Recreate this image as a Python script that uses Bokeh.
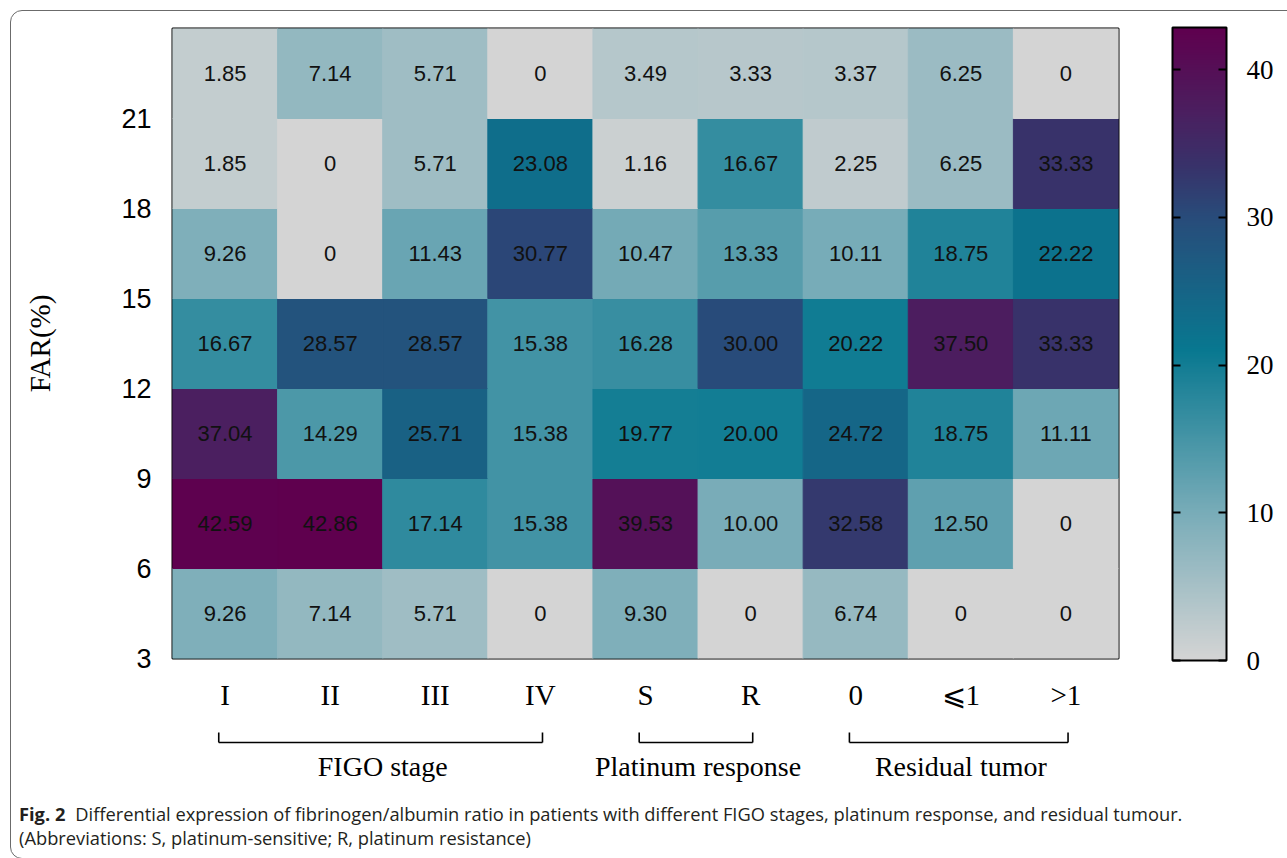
import numpy as np
from bokeh.plotting import figure
from bokeh.layouts import column
from bokeh.models import (ColumnDataSource, LinearColorMapper, ColorBar, FixedTicker,
                          InlineStyleSheet, Div)
from bokeh.transform import transform
from bokeh.core.properties import value
from bokeh.embed import file_html
from bokeh.resources import INLINE

# ---------------- data ----------------
categories = ["I", "II", "III", "IV", "S", "R", "0", "\u2a7d1", ">1"]
far_edges = [3, 6, 9, 12, 15, 18, 21, 24]
y_ticks = [3, 6, 9, 12, 15, 18, 21]

# percentage of patients in each FAR bin (one list per bin, bottom to top)
bin_3_6 = [9.26, 7.14, 5.71, 0, 9.30, 0, 6.74, 0, 0]
bin_6_9 = [42.59, 42.86, 17.14, 15.38, 39.53, 10.00, 32.58, 12.50, 0]
bin_9_12 = [37.04, 14.29, 25.71, 15.38, 19.77, 20.00, 24.72, 18.75, 11.11]
bin_12_15 = [16.67, 28.57, 28.57, 15.38, 16.28, 30.00, 20.22, 37.50, 33.33]
bin_15_18 = [9.26, 0, 11.43, 30.77, 10.47, 13.33, 10.11, 18.75, 22.22]
bin_18_21 = [1.85, 0, 5.71, 23.08, 1.16, 16.67, 2.25, 6.25, 33.33]
bin_21_24 = [1.85, 7.14, 5.71, 0, 3.49, 3.33, 3.37, 6.25, 0]

groups = ["FIGO stage", "Platinum response", "Residual tumor"]
group_first = [0, 4, 6]
group_last = [3, 5, 8]
cbar_ticks = [0, 10, 20, 30, 40]

caption_bold = "Fig. 2"
caption_1 = ("Differential expression of fibrinogen/albumin ratio in patients with different "
             "FIGO stages, platinum response, and residual tumour.")
caption_2 = "(Abbreviations: S, platinum-sensitive; R, platinum resistance)"

# ---------------- table ----------------
rows = [bin_3_6, bin_6_9, bin_9_12, bin_12_15, bin_15_18, bin_18_21, bin_21_24]
xs, ys, hs, vals, labels = [], [], [], [], []
for i, row in enumerate(rows):
    for j, v in enumerate(row):
        xs.append(j)
        ys.append((far_edges[i] + far_edges[i + 1]) / 2)
        hs.append(far_edges[i + 1] - far_edges[i])
        vals.append(v)
        labels.append("0" if v == 0 else f"{v:.2f}")
src = ColumnDataSource(dict(x=xs, y=ys, h=hs, v=vals, t=labels))

vmax = max(vals)
anchors = [(0, (212, 212, 212)), (10, (120, 172, 184)), (21, (8, 120, 144)),
           (30, (40, 76, 122)), (33.5, (56, 50, 106)), (37, (74, 32, 96)),
           (vmax, (95, 0, 78))]
ap = [a[0] for a in anchors]
palette = []
for k in range(256):
    t = vmax * k / 255
    c = [int(round(np.interp(t, ap, [a[1][ch] for a in anchors]))) for ch in range(3)]
    palette.append("#%02x%02x%02x" % tuple(c))
mapper = LinearColorMapper(palette=palette, low=0, high=vmax)

W = 1279
SERIF = "Liberation Serif"
SANS = "Liberation Sans"

# ---------------- main heat map ----------------
p = figure(width=W, height=722, x_range=(-0.5, 8.5), y_range=(3, 24),
           output_backend="svg", toolbar_location=None,
           min_border_left=172, min_border_right=W - 1118, min_border_top=28,
           min_border_bottom=64)
p.background_fill_color = "white"
p.border_fill_color = "white"
p.grid.visible = False
p.outline_line_color = "black"
p.outline_line_width = 2

p.rect(x="x", y="y", width=1, height="h", source=src,
       fill_color=transform("v", mapper), line_color=transform("v", mapper), line_width=1)
p.text(x="x", y="y", text="t", source=src, text_font=value(SANS),
       text_font_size="22px", text_align="center", text_baseline="middle",
       text_color="#111111")

p.xaxis.ticker = FixedTicker(ticks=list(range(len(categories))))
p.xaxis.major_label_overrides = {j: c for j, c in enumerate(categories)}
p.xaxis.major_label_text_font = SERIF
p.xaxis.major_label_text_font_size = "29px"
p.xaxis.major_label_text_color = "black"
p.xaxis.major_label_standoff = 20
p.yaxis.ticker = FixedTicker(ticks=y_ticks)
p.yaxis.major_label_text_font = SANS
p.yaxis.major_label_text_font_size = "27px"
p.yaxis.major_label_text_color = "black"
p.yaxis.major_label_standoff = 21
p.yaxis.axis_label = "FAR(%)"
p.yaxis.axis_label_text_font = SERIF
p.yaxis.axis_label_text_font_size = "29px"
p.yaxis.axis_label_text_font_style = "normal"
p.yaxis.axis_label_text_color = "black"
p.yaxis.axis_label_standoff = 62
for ax in (p.xaxis, p.yaxis):
    ax.axis_line_color = None
    ax.major_tick_line_color = None
    ax.minor_tick_line_color = None
    ax.major_tick_out = 0
    ax.major_tick_in = 0

# ticks run across the bar with a dash pattern, leaving short marks on both edges
cb = ColorBar(color_mapper=mapper, ticker=FixedTicker(ticks=cbar_ticks),
              width=54, height=633, location=(1000, -2), padding=0, margin=0,
              background_fill_color=None, border_line_color=None,
              bar_line_color="black", bar_line_width=2,
              major_tick_line_color="black", major_tick_line_width=2, major_tick_in=54,
              major_tick_line_dash="8 38",
              minor_tick_line_color=None,
              major_label_text_font=SERIF, major_label_text_font_size="27px",
              major_label_text_color="black", label_standoff=20)
p.add_layout(cb, "center")

# ---------------- group brackets ----------------
p2 = figure(width=W, height=70, x_range=p.x_range, y_range=(0, 70),
            output_backend="svg", toolbar_location=None,
            x_axis_location=None, y_axis_location=None,
            min_border_left=172, min_border_right=W - 1118, min_border_top=0,
            min_border_bottom=0)
p2.grid.visible = False
p2.outline_line_color = None
p2.background_fill_color = "white"
p2.border_fill_color = "white"
bx0, by0, bx1, by1 = [], [], [], []
for a, b in zip(group_first, group_last):
    for (x0, y0, x1, y1) in [(a - 0.06, 60, a - 0.06, 50), (a - 0.06, 50, b + 0.02, 50),
                             (b + 0.02, 50, b + 0.02, 60)]:
        bx0.append(x0); by0.append(y0); bx1.append(x1); by1.append(y1)
p2.segment(bx0, by0, bx1, by1, line_color="black", line_width=1.6)
p2.text(x=[(a + b) / 2 for a, b in zip(group_first, group_last)], y=[26] * len(groups),
        text=groups, text_font=value(SERIF), text_font_size="28px",
        text_align="center", text_baseline="middle", text_color="black")

# ---------------- caption ----------------
cap = Div(text=(f'<span style="font-weight:700;margin-right:10px">{caption_bold}</span>'
                f'{caption_1}<br>{caption_2}'),
          width=W, height=58,
          styles={"font-family": "'Open Sans', sans-serif", "font-size": "18.3px",
                  "line-height": "24px", "color": "#231f20", "padding-left": "14px",
                  "padding-top": "5px", "white-space": "nowrap"})

frame_css = InlineStyleSheet(css=(
    ":host{position:relative;overflow:hidden;}"
    ":host::after{content:'';position:absolute;left:10px;top:10px;width:1400px;"
    "height:847px;border:1.3px solid #6b6b6b;border-radius:12px;pointer-events:none;}"))
layout = column(p, p2, cap, spacing=0, stylesheets=[frame_css])

open("out.html", "w").write(file_html(layout, INLINE))
